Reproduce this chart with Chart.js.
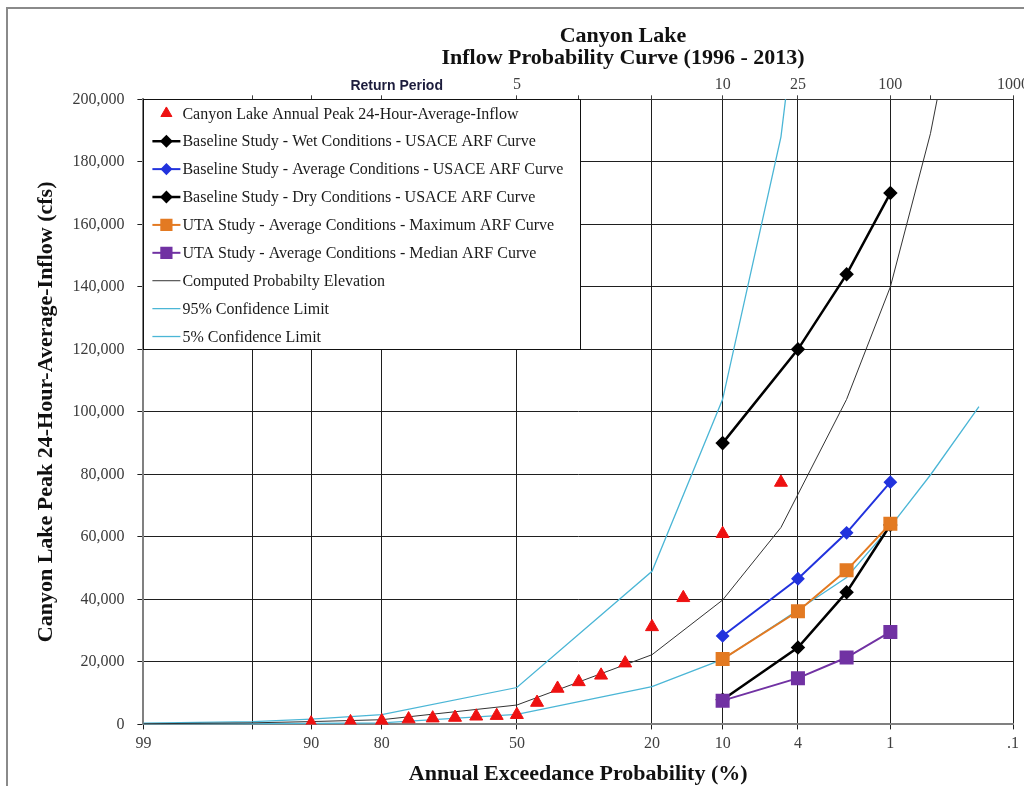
<!DOCTYPE html>
<html>
<head>
<meta charset="utf-8">
<title>Canyon Lake Inflow Probability Curve</title>
<script src="https://cdn.jsdelivr.net/npm/chart.js@4.4.1/dist/chart.umd.min.js"></script>
<style>
  html, body { margin: 0; padding: 0; background: #fff; overflow: hidden; }
  #frame {
    position: absolute; left: 6px; top: 7px;
    width: 1230px; height: 779px;
    border-left: 2px solid #8a8a8a; border-top: 2px solid #8a8a8a;
    background: #fff;
  }
</style>
</head>
<body>
<div id="frame"><canvas id="probChart"></canvas></div>
<script>
// Annual peaks, plotted at their exceedance probability (%)
const peakExceedance = [90, 85, 80, 75, 70, 65, 60, 55, 50, 45, 40, 35, 30, 25, 20, 15, 10, 5];
const peakInflow = [400, 800, 1100, 1700, 2000, 2200, 2600, 2800, 3100, 7000, 11500, 13600, 15700, 19600, 31200, 40500, 61000, 77400];

// Study curves
const studyExceedance = [10, 4, 2, 1];
const wetInflow = [90000, 120000, 144000, 170000];
const averageInflow = [28300, 46600, 61300, 77500];
const dryInflow = [7900, 24600, 42300, 63800];
const utaMaxInflow = [20900, 36200, 49300, 64200];
const utaMedianInflow = [7600, 14800, 21400, 29600];

// Computed frequency curve and confidence limits
const curveExceedance = [99, 95, 90, 80, 50, 20, 10, 5, 2, 1, 0.5, 0.2];
const computedInflow = [200, 500, 900, 1500, 6200, 22300, 39800, 63000, 104000, 140000, 189000, 268000];
const lower5Inflow = [100, 200, 300, 500, 3200, 12100, 20800, 33000, 47000, 63300, 79800, 101700];
const upper95Exceedance = [99, 95, 90, 80, 50, 20, 10, 5, 2];
const upper95Inflow = [400, 900, 1700, 3100, 11800, 49000, 104000, 188000, 360000];

// Axis ticks
const bottomTicks = [99, 95, 90, 80, 50, 20, 10, 4, 1, 0.1];
const bottomLabels = ['99', '', '90', '80', '50', '20', '10', '4', '1', '.1'];
const topTicks = [95, 90, 80, 77.3, 50, 35, 20, 10, 4, 1, 0.5, 0.1];
const topLabels = ['', '', '', 'Return Period', '5', '', '', '10', '25', '100', '', '1000'];

const serif = "'Liberation Serif', 'Times New Roman', serif";
const sans = "'Liberation Sans', Arial, sans-serif";

// inverse normal (Acklam)
function normInv(p) {
  const a = [-3.969683028665376e+01, 2.209460984245205e+02, -2.759285104469687e+02, 1.383577518672690e+02, -3.066479806614716e+01, 2.506628277459239e+00];
  const b = [-5.447609879822406e+01, 1.615858368580409e+02, -1.556989798598866e+02, 6.680131188771972e+01, -1.328068155288572e+01];
  const c = [-7.784894002430293e-03, -3.223964580411365e-01, -2.400758277161838e+00, -2.549732539343734e+00, 4.374664141464968e+00, 2.938163982698783e+00];
  const d = [7.784695709041462e-03, 3.224671290700398e-01, 2.445134137142996e+00, 3.754408661907416e+00];
  const pl = 0.02425;
  let q, r;
  if (p < pl) {
    q = Math.sqrt(-2 * Math.log(p));
    return (((((c[0]*q+c[1])*q+c[2])*q+c[3])*q+c[4])*q+c[5]) / ((((d[0]*q+d[1])*q+d[2])*q+d[3])*q+1);
  }
  if (p > 1 - pl) {
    q = Math.sqrt(-2 * Math.log(1 - p));
    return -(((((c[0]*q+c[1])*q+c[2])*q+c[3])*q+c[4])*q+c[5]) / ((((d[0]*q+d[1])*q+d[2])*q+d[3])*q+1);
  }
  q = p - 0.5; r = q * q;
  return (((((a[0]*r+a[1])*r+a[2])*r+a[3])*r+a[4])*r+a[5])*q / (((((b[0]*r+b[1])*r+b[2])*r+b[3])*r+b[4])*r+1);
}
function normCdf(z) {
  const t = 1 / (1 + 0.2316419 * Math.abs(z));
  const dd = 0.3989423 * Math.exp(-z * z / 2);
  const p = dd * t * (0.3193815 + t * (-0.3565638 + t * (1.781478 + t * (-1.821256 + t * 1.330274))));
  return z > 0 ? 1 - p : p;
}
const zOf = pct => normInv(1 - pct / 100);

// probability-paper axis: exceedance % mapped through the normal quantile
class ExceedanceScale extends Chart.Scale {
  determineDataLimits() {
    this.min = this.options.min;
    this.max = this.options.max;
  }
  buildTicks() {
    return this.options.tickValues.map(v => ({ value: v }));
  }
  getLabelForValue(v) { return String(v); }
  configure() {
    super.configure();
    this._z0 = zOf(this.min);
    this._z1 = zOf(this.max);
  }
  getPixelForValue(v) {
    return this.getPixelForDecimal((zOf(v) - this._z0) / (this._z1 - this._z0));
  }
  getValueForPixel(px) {
    const z = this._z0 + this.getDecimalForPixel(px) * (this._z1 - this._z0);
    return 100 * (1 - normCdf(z));
  }
}
ExceedanceScale.id = 'exceedance';
ExceedanceScale.defaults = {};
Chart.register(ExceedanceScale);

// boxed legend in the top-left corner of the plot
const boxLegend = {
  id: 'boxLegend',
  afterDatasetsDraw(chart, args, opts) {
    const { ctx, chartArea } = chart;
    const x = chartArea.left, y = chartArea.top;
    ctx.save();
    ctx.fillStyle = '#fff';
    ctx.fillRect(x, y, opts.width, opts.height);
    ctx.strokeStyle = '#111';
    ctx.lineWidth = 1;
    ctx.strokeRect(Math.round(x) + 0.5, Math.round(y) + 0.5, opts.width, opts.height);
    ctx.font = '16px ' + serif;
    ctx.textBaseline = 'middle';
    chart.data.datasets.forEach((ds, i) => {
      const cy = y + opts.firstRow + i * opts.rowHeight;
      const mx = x + opts.markerX;
      if (ds.showLine) {
        ctx.strokeStyle = ds.borderColor;
        ctx.lineWidth = Math.min(ds.borderWidth, 2.5);
        ctx.beginPath();
        ctx.moveTo(mx - 14, cy);
        ctx.lineTo(mx + 14, cy);
        ctx.stroke();
      }
      if (ds.pointRadius > 0) {
        ctx.fillStyle = ds.backgroundColor;
        ctx.strokeStyle = ds.backgroundColor;
        Chart.helpers.drawPoint(ctx, { pointStyle: ds.pointStyle, radius: ds.pointRadius * 0.85, rotation: 0, borderWidth: 1 }, mx, cy);
      }
      ctx.fillStyle = '#1a1a1a';
      ctx.fillText(ds.label, x + opts.textX, cy + 1);
    });
    ctx.restore();
  }
};

const pts = (xs, ys) => xs.map((v, i) => ({ x: v, y: ys[i] }));

const red = '#ee1111', blue = '#2233dd', orange = '#e37a22', purple = '#7132a3', cyan = '#4bb6d6';

new Chart(document.getElementById('probChart'), {
  type: 'scatter',
  data: {
    datasets: [
      { label: 'Canyon Lake Annual Peak 24-Hour-Average-Inflow', data: pts(peakExceedance, peakInflow),
        showLine: false, pointStyle: 'triangle', pointRadius: 7.5, backgroundColor: red, borderColor: red, pointBorderWidth: 1, order: 0 },
      { label: 'Baseline Study - Wet Conditions - USACE ARF Curve', data: pts(studyExceedance, wetInflow),
        showLine: true, borderColor: '#000', borderWidth: 2.5, pointStyle: 'rectRot', pointRadius: 5.5, backgroundColor: '#000', order: 1 },
      { label: 'Baseline Study - Average Conditions - USACE ARF Curve', data: pts(studyExceedance, averageInflow),
        showLine: true, borderColor: blue, borderWidth: 2, pointStyle: 'rectRot', pointRadius: 5.5, backgroundColor: blue, order: 2 },
      { label: 'Baseline Study - Dry Conditions - USACE ARF Curve', data: pts(studyExceedance, dryInflow),
        showLine: true, borderColor: '#000', borderWidth: 2.5, pointStyle: 'rectRot', pointRadius: 5.5, backgroundColor: '#000', order: 5 },
      { label: 'UTA Study - Average Conditions - Maximum ARF Curve', data: pts(studyExceedance, utaMaxInflow),
        showLine: true, borderColor: orange, borderWidth: 2, pointStyle: 'rect', pointRadius: 8.5, backgroundColor: orange, order: 3 },
      { label: 'UTA Study - Average Conditions - Median ARF Curve', data: pts(studyExceedance, utaMedianInflow),
        showLine: true, borderColor: purple, borderWidth: 2, pointStyle: 'rect', pointRadius: 8.5, backgroundColor: purple, order: 4 },
      { label: 'Computed Probabilty Elevation', data: pts(curveExceedance, computedInflow),
        showLine: true, borderColor: '#333', borderWidth: 1, pointRadius: 0, order: 6 },
      { label: '95% Confidence Limit', data: pts(upper95Exceedance, upper95Inflow),
        showLine: true, borderColor: cyan, borderWidth: 1.3, pointRadius: 0, order: 7 },
      { label: '5% Confidence Limit', data: pts(curveExceedance, lower5Inflow),
        showLine: true, borderColor: cyan, borderWidth: 1.3, pointRadius: 0, order: 8 }
    ]
  },
  options: {
    responsive: true,
    maintainAspectRatio: false,
    animation: false,
    plugins: {
      legend: { display: false },
      title: {
        display: true,
        text: ['Canyon Lake', 'Inflow Probability Curve (1996 - 2013)'],
        color: '#111',
        font: { family: serif, size: 22, weight: 'bold', lineHeight: 0.98 },
        padding: { top: 17, bottom: 5 }
      },
      boxLegend: { width: 437, height: 250, firstRow: 14, rowHeight: 27.9, markerX: 23, textX: 39 }
    },
    scales: {
      x: {
        type: 'exceedance', position: 'bottom', min: 99, max: 0.1, tickValues: bottomTicks,
        grid: { color: '#1f1f1f', lineWidth: 1, tickLength: 5 },
        border: { color: '#808080', width: 2 },
        ticks: { autoSkip: false, maxRotation: 0, padding: 5, color: '#404040',
          font: { family: serif, size: 16 }, callback: (v, i) => bottomLabels[i] },
        title: { display: true, text: 'Annual Exceedance Probability (%)', color: '#111',
          font: { family: serif, size: 22, weight: 'bold' }, padding: { top: 3, bottom: 0 } }
      },
      x2: {
        type: 'exceedance', position: 'top', min: 99, max: 0.1, tickValues: topTicks,
        grid: { drawOnChartArea: false, tickLength: 4,
          color: c => topLabels[c.index] === 'Return Period' ? 'rgba(0,0,0,0)' : '#404040' },
        border: { color: '#333', width: 1 },
        ticks: { autoSkip: false, maxRotation: 0, padding: 1,
          color: c => topLabels[c.index] === 'Return Period' ? '#1c1c3c' : '#404040',
          font: c => topLabels[c.index] === 'Return Period'
            ? { family: sans, size: 14, weight: 'bold' } : { family: serif, size: 16 },
          callback: (v, i) => topLabels[i] }
      },
      y: {
        min: 0, max: 200000,
        grid: { color: '#1f1f1f', lineWidth: 1, tickLength: 6 },
        border: { color: '#808080', width: 2 },
        ticks: { stepSize: 20000, padding: 13, color: '#3a3a3a', font: { family: serif, size: 16 },
          callback: v => v.toLocaleString('en-US') },
        title: { display: true, text: 'Canyon Lake Peak 24-Hour-Average-Inflow (cfs)', color: '#111',
          font: { family: serif, size: 22, weight: 'bold' }, padding: { top: 25, bottom: 0 } }
      },
      // empty right-hand band of the original sheet (cropped off-screen)
      yRight: {
        position: 'right', display: true,
        grid: { display: false }, ticks: { display: false }, border: { display: false },
        afterFit: s => { s.width = 225; }
      }
    }
  },
  plugins: [boxLegend]
});
</script>
</body>
</html>
